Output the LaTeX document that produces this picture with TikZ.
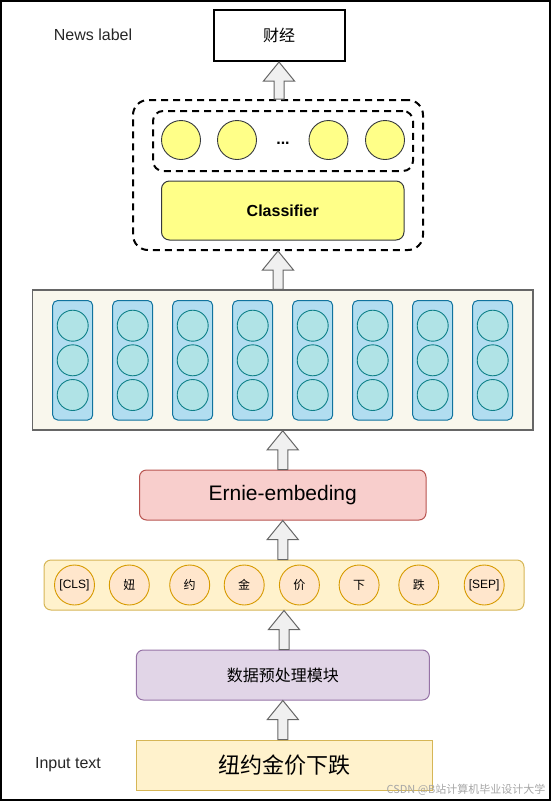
\documentclass[tikz,border=0pt]{standalone}
\usepackage{fontspec}
\setmainfont{Liberation Sans}
\newfontfamily\cjk{Noto Sans CJK SC}
\usetikzlibrary{arrows.meta, positioning, calc}
\definecolor{myyellow}{HTML}{FFFF88}
\definecolor{mydark}{HTML}{36393D}
\definecolor{mycream}{HTML}{F9F7ED}
\definecolor{mygrayline}{HTML}{666666}
\definecolor{myblue}{HTML}{B1DDF0}
\definecolor{myblueline}{HTML}{10739E}
\definecolor{myteal}{HTML}{B0E3E6}
\definecolor{mytealline}{HTML}{0E8088}
\definecolor{myred}{HTML}{F8CECC}
\definecolor{myredline}{HTML}{B85450}
\definecolor{mysand}{HTML}{FFF2CC}
\definecolor{mysandline}{HTML}{D6B656}
\definecolor{myorange}{HTML}{FFE6CC}
\definecolor{myorangeline}{HTML}{D79B00}
\definecolor{mypurple}{HTML}{E1D5E7}
\definecolor{mypurpleline}{HTML}{9673A6}
\definecolor{myarrow}{HTML}{F0F0F0}

% hollow up arrow from the top of #1 to the bottom of #2
\newcommand{\blockarrow}[2]{%
  \draw[blockarr] ($(#2.south |- #1.north)+(-5,0)$) -- ($(#2.south)+(-5,19)$)
    -- ($(#2.south)+(-15.5,19)$) -- (#2.south) -- ($(#2.south)+(15.5,19)$)
    -- ($(#2.south)+(5,19)$) -- ($(#2.south |- #1.north)+(5,0)$) -- cycle;}

\begin{document}
\begin{tikzpicture}[x=1pt, y=-1pt,
    box/.style={draw, rounded corners=7pt, inner sep=0pt, line width=1pt, font=\fontsize{16}{19}\selectfont},
    dashbox/.style={draw, dash pattern=on 7pt off 5pt, line width=2pt, inner sep=0pt},
    ball/.style={circle, draw, inner sep=0pt, line width=0.9pt},
    plain/.style={font=\fontsize{16}{19}\selectfont, text=black!85},
    blockarr/.style={draw=mygrayline, fill=myarrow, line width=1pt, line join=miter}]
    \useasboundingbox (0,0) rectangle (551,801);
    \draw[line width=2pt] (1,1) rectangle (550,800);

    % Output label
    \node[draw, line width=2pt, minimum width=131pt, minimum height=51pt, font=\cjk\fontsize{16}{19}\selectfont] (news) at (279,35.5) {财经};
    \node[plain] (newstxt) at (93,35) {News label};

    % Classifier with output units
    \node[dashbox, rounded corners=15pt, minimum width=290pt, minimum height=150pt] (head) at (278,175) {};
    \node[dashbox, rounded corners=10pt, minimum width=260pt, minimum height=60pt] (units) at (283,141) {};
    \foreach \x [count=\i] in {181,237,328.5,385}
        \node[ball, fill=myyellow, draw=mydark, minimum size=39pt] (unit\i) at (\x,140) {};
    \node[font=\fontsize{16}{19}\selectfont\bfseries] (dots) at (283,143) {...};
    \node[box, rounded corners=8pt, fill=myyellow, draw=mydark, minimum width=242.5pt, minimum height=59pt, font=\fontsize{16}{19}\selectfont\bfseries] (classifier) at (282.75,210.5) {Classifier};

    % Encoder outputs
    \node[draw=mygrayline, fill=mycream, line width=1.5pt, minimum width=500.5pt, minimum height=140pt, inner sep=0pt] (enc) at (282.75,360) {};
    \foreach \i in {1,...,8} {
        \node[box, rounded corners=5pt, fill=myblue, draw=myblueline, minimum width=40pt, minimum height=119.5pt] (col\i) at ({72.7+60*(\i-1)},360.25) {};
        \foreach \y [count=\j] in {325.7,360.3,395}
            \node[ball, fill=myteal, draw=mytealline, minimum size=31pt] (cell\i-\j) at ({72.7+60*(\i-1)},\y) {};
    }

    % Embedding
    \node[box, fill=myred, draw=myredline, minimum width=286.5pt, minimum height=50pt, font=\fontsize{21}{25}\selectfont] (ernie) at (282.75,495) {Ernie-embeding};

    % Tokens
    \node[box, fill=mysand, draw=mysandline, minimum width=480pt, minimum height=50pt] (tokens) at (284,585) {};
    \foreach \x/\t [count=\i] in {74.5/{[CLS]},129.3/{\cjk 妞},189.7/{\cjk 约},244.2/{\cjk 金},299.4/{\cjk 价},359.1/{\cjk 下},418.8/{\cjk 跌},484.2/{[SEP]}}
        \node[ball, fill=myorange, draw=myorangeline, minimum size=40pt, font=\fontsize{12}{14}\selectfont] (tok\i) at (\x,585) {\t};

    % Preprocessing and input
    \node[box, fill=mypurple, draw=mypurpleline, minimum width=293pt, minimum height=50pt, font=\cjk\fontsize{16}{19}\selectfont] (prep) at (282.85,675) {数据预处理模块};
    \node[draw=mysandline, fill=mysand, line width=1pt, minimum width=296pt, minimum height=50pt, inner sep=0pt, font=\cjk\fontsize{22}{26}\selectfont] (input) at (284.25,765) {纽约金价下跌};
    \node[plain] (inputtxt) at (68,765) {Input text};

    % Arrows
    \blockarrow{head}{news}
    \blockarrow{enc}{head}
    \blockarrow{ernie}{enc}
    \blockarrow{tokens}{ernie}
    \blockarrow{prep}{tokens}
    \blockarrow{input}{prep}

    \node[anchor=east, text=black!35, font=\cjk\fontsize{11}{13}\selectfont] (mark) at (549,790) {CSDN @B站计算机毕业设计大学};
\end{tikzpicture}
\end{document}
